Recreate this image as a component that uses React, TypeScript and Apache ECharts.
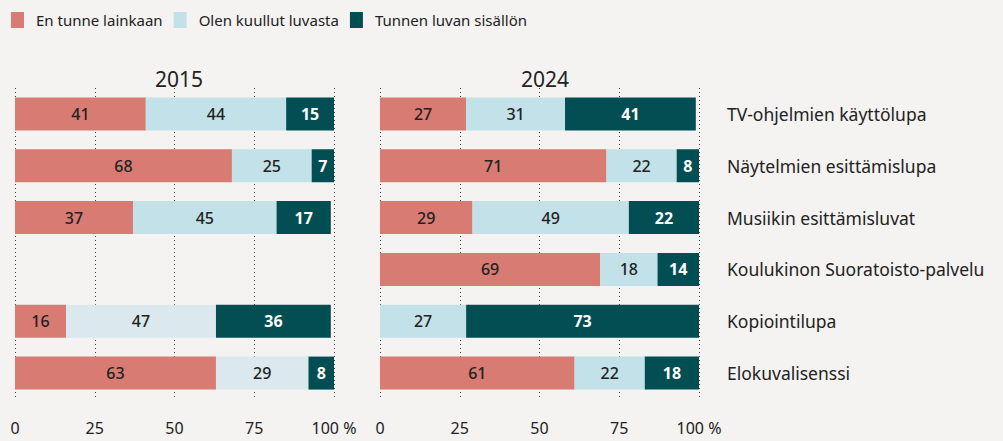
import React, { useEffect, useRef } from "react";
import * as echarts from "echarts";

const categories = [
  "TV-ohjelmien käyttölupa",
  "Näytelmien esittämislupa",
  "Musiikin esittämisluvat",
  "Koulukinon Suoratoisto-palvelu",
  "Kopiointilupa",
  "Elokuvalisenssi",
];
const seriesNames = ["En tunne lainkaan", "Olen kuullut luvasta", "Tunnen luvan sisällön"];
const years = ["2015", "2024"];

const notKnown2015 = [41, 68, 37, null, 16, 63];
const heard2015 = [44, 25, 45, null, 47, 29];
const know2015 = [15, 7, 17, null, 36, 8];

const notKnown2024 = [27, 71, 29, 69, null, 61];
const heard2024 = [31, 22, 49, 18, 27, 22];
const know2024 = [41, 8, 22, 14, 73, 18];

const xTicks = [0, 25, 50, 75, 100];

const COLORS = ["#d87b73", "#c3e1e8", "#024e53"];
const FONT = "'Noto Sans', sans-serif";

export default function App() {
  const ref = useRef<HTMLDivElement>(null);
  useEffect(() => {
    if (!ref.current) return;
    const chart = echarts.init(ref.current, null, { renderer: "svg" });
    const data = [
      [notKnown2015, heard2015, know2015],
      [notKnown2024, heard2024, know2024],
    ];
    const grids = [
      { left: 15, width: 319, top: 88, height: 311 },
      { left: 380, width: 319, top: 88, height: 311 },
    ];
    const xAxes = grids.map((_, gi) => ({
      type: "value",
      gridIndex: gi,
      min: 0,
      max: 100,
      interval: 25,
      axisLine: { show: false },
      axisTick: { show: false },
      splitLine: { show: true, lineStyle: { color: "#444", type: [1, 3], width: 1 } },
      axisLabel: {
        margin: 21,
        fontFamily: FONT,
        fontSize: 16,
        color: "#222",
        formatter: (v: number) => (xTicks.includes(v) ? (v === 100 ? "100 %" : String(v)) : ""),
        showMinLabel: true,
        showMaxLabel: true,
      },
      z: 0,
    }));
    const yAxes = grids.map((_, gi) => ({
      type: "category",
      gridIndex: gi,
      data: categories,
      inverse: true,
      position: "right",
      axisLine: { show: false },
      axisTick: { show: false },
      axisLabel: gi === 1
        ? { show: true, align: "left", margin: 28, fontFamily: FONT, fontSize: 17.5, color: "#222" }
        : { show: false },
    }));
    const series: any[] = [];
    data.forEach((yearData, gi) => {
      yearData.forEach((vals, si) => {
        series.push({
          type: "bar",
          name: seriesNames[si],
          stack: "y" + gi,
          xAxisIndex: gi,
          yAxisIndex: gi,
          barWidth: 33,
          itemStyle: { color: COLORS[si] },
          data: vals.map((v, i) =>
            gi === 0 && si === 1 && i >= 4
              ? { value: v, itemStyle: { color: "#dbe9ee" } }
              : v
          ),
          label: {
            show: true,
            position: "inside",
            fontFamily: FONT,
            fontSize: 16,
            fontWeight: si === 2 ? "bold" : 500,
            color: si === 2 ? "#ffffff" : "#222",
            formatter: (p: any) => (p.value == null ? "" : String(p.value)),
          },
          z: 2,
        });
      });
    });
    chart.setOption({
      animation: false,
      backgroundColor: "#f4f3f1",
      legend: {
        data: seriesNames,
        left: 11,
        top: 12,
        padding: 0,
        itemWidth: 13,
        itemHeight: 16,
        itemGap: 11,
        icon: "rect",
        textStyle: { fontFamily: FONT, fontSize: 15, color: "#222", padding: [0, 0, 0, 7] },
      },
      title: years.map((y, i) => ({
        text: y,
        left: i === 0 ? 174 : 540,
        top: 63,
        textAlign: "center",
        textStyle: { fontFamily: FONT, fontSize: 21, fontWeight: "normal", color: "#222" },
      })),
      grid: grids,
      xAxis: xAxes,
      yAxis: yAxes,
      series,
    });
    return () => chart.dispose();
  }, []);
  return (
    <div
      ref={ref}
      style={{ position: "fixed", left: 0, top: 0, width: 1003, height: 441 }}
    />
  );
}
